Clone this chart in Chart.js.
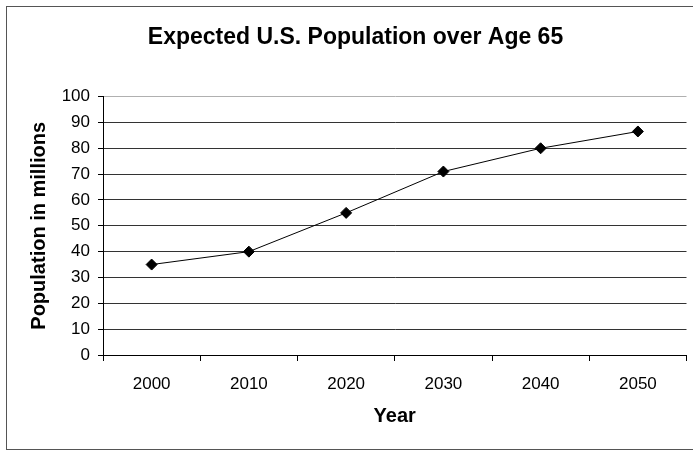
<!DOCTYPE html>
<html>
<head>
<meta charset="utf-8">
<script src="https://cdn.jsdelivr.net/npm/chart.js@4.4.0/dist/chart.umd.min.js"></script>
<style>
  html, body { margin: 0; padding: 0; background: #fff; }
  #wrap { position: relative; width: 693px; height: 450px; overflow: hidden; }
  #frame { position: absolute; left: 6px; top: 6px; width: 720px; height: 442px; border: 1px solid #555; }
  canvas { position: absolute; left: 0; top: 0; }
</style>
</head>
<body>
<div id="wrap">
  <div id="frame"></div>
  <canvas id="chart" width="693" height="450"></canvas>
</div>
<script>
const years = ['2000', '2010', '2020', '2030', '2040', '2050'];
const population = [35, 40, 55, 71, 80, 86.5];
const yTicks = [0, 10, 20, 30, 40, 50, 60, 70, 80, 90, 100];

const font = "'Liberation Sans', Arial, sans-serif";

new Chart(document.getElementById('chart'), {
  type: 'line',
  data: {
    labels: years,
    datasets: [{
      label: 'Population',
      data: population,
      borderColor: '#000',
      borderWidth: 1,
      pointStyle: 'rectRot',
      pointRadius: 5.5,
      pointBackgroundColor: '#000',
      pointBorderColor: '#000',
      tension: 0
    }]
  },
  options: {
    responsive: false,
    animation: false,
    layout: { padding: { left: 20, right: 2, top: 0, bottom: 18 } },
    plugins: {
      legend: { display: false },
      tooltip: { enabled: false },
      title: {
        display: true,
        text: 'Expected U.S. Population over Age 65',
        color: '#000',
        font: { family: font, size: 23, weight: 'bold' },
        padding: { top: 24, bottom: 45 }
      }
    },
    scales: {
      x: {
        offset: true,
        afterFit: (scale) => { scale.height = 77; },
        grid: { offset: true, drawOnChartArea: false, tickLength: 6, tickColor: '#000' },
        border: { color: '#000' },
        ticks: { color: '#000', padding: 13, font: { family: font, size: 17 } },
        title: {
          display: true, text: 'Year', color: '#000',
          font: { family: font, size: 20, weight: 'bold' },
          padding: { top: 10, bottom: 4 }
        }
      },
      y: {
        min: 0, max: 100,
        afterBuildTicks: (scale) => { scale.ticks = yTicks.map(v => ({ value: v })); },
        afterFit: (scale) => { scale.width = 83; },
        grid: {
          color: (ctx) => ctx.tick && ctx.tick.value === 100 ? '#b0b0b0' : '#333',
          tickColor: '#000',
          tickLength: 5
        },
        border: { color: '#000' },
        ticks: { color: '#000', padding: 8, font: { family: font, size: 17 } },
        title: {
          display: true, text: 'Population in millions', color: '#000',
          font: { family: font, size: 20, weight: 'bold' },
          padding: { top: 7, bottom: 0 }
        }
      }
    }
  }
});
</script>
</body>
</html>
